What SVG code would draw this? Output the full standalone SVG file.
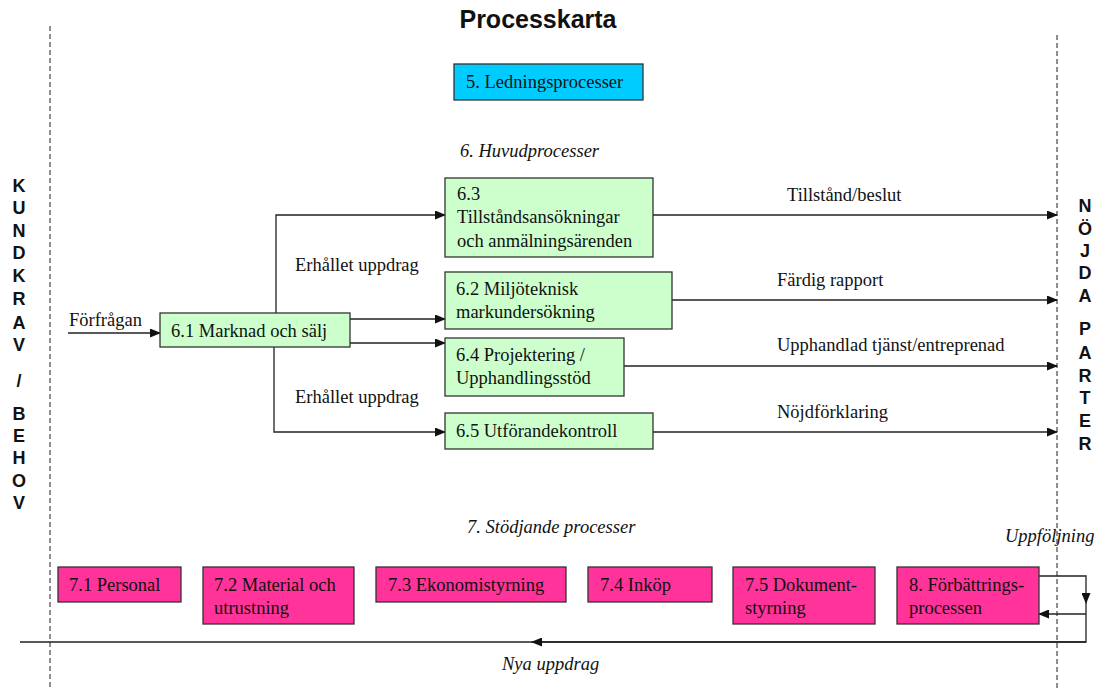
<svg xmlns="http://www.w3.org/2000/svg" width="1097" height="688" viewBox="0 0 1097 688">
<style>
.t{font-family:"Liberation Serif","Times New Roman","DejaVu Serif",serif;font-size:18.5px;fill:#111}
.i{font-family:"Liberation Serif","Times New Roman","DejaVu Serif",serif;font-size:18.5px;font-style:italic;fill:#111}
.v{font-family:"Liberation Sans",Arial,sans-serif;font-size:18px;font-weight:bold;fill:#111;text-anchor:middle}
.g rect{fill:#CCFFCC;stroke:#333;stroke-width:1.3}
.p rect{fill:#FF3399;stroke:#333;stroke-width:1.3}
.c path{fill:none;stroke:#222;stroke-width:1.3}
.d{stroke:#555;stroke-width:1.3;stroke-dasharray:5,3;fill:none}
</style>
<defs>
<marker id="ah" markerUnits="userSpaceOnUse" markerWidth="11" markerHeight="9" refX="10" refY="4.5" orient="auto">
<path d="M0,0 L11,4.5 L0,9 z" fill="#111"/>
</marker>
</defs>
<rect width="1097" height="688" fill="#fff"/>
<text x="538" y="28" text-anchor="middle" style="font-family:'Liberation Sans',Arial,sans-serif;font-size:25px;font-weight:bold;fill:#111">Processkarta</text>
<path class="d" d="M50,26 V688"/>
<path class="d" d="M1057,35 V688"/>
<g id="left-label">
<text class="v" x="19" y="192">K</text>
<text class="v" x="19" y="214">U</text>
<text class="v" x="19" y="237">N</text>
<text class="v" x="19" y="259">D</text>
<text class="v" x="19" y="282">K</text>
<text class="v" x="19" y="305">R</text>
<text class="v" x="19" y="329">A</text>
<text class="v" x="19" y="351">V</text>
<text class="v" x="19" y="387">/</text>
<text class="v" x="19" y="420">B</text>
<text class="v" x="19" y="442">E</text>
<text class="v" x="19" y="464">H</text>
<text class="v" x="19" y="487">O</text>
<text class="v" x="19" y="509">V</text>
</g>
<g id="right-label">
<text class="v" x="1085" y="212">N</text>
<text class="v" x="1085" y="235">Ö</text>
<text class="v" x="1085" y="257">J</text>
<text class="v" x="1085" y="279">D</text>
<text class="v" x="1085" y="302">A</text>
<text class="v" x="1085" y="335">P</text>
<text class="v" x="1085" y="359">A</text>
<text class="v" x="1085" y="382">R</text>
<text class="v" x="1085" y="404">T</text>
<text class="v" x="1085" y="427">E</text>
<text class="v" x="1085" y="450">R</text>
</g>
<g id="n5">
<rect x="454" y="64" width="189" height="36" fill="#00CCFF" stroke="#333" stroke-width="1.3"/>
<text class="t" x="466" y="88">5. Ledningsprocesser</text>
</g>
<text class="i" x="460" y="157">6. Huvudprocesser</text>
<g class="c" id="connectors">
<path d="M68,333 H160" marker-end="url(#ah)"/>
<path d="M276,313 V215 H445" marker-end="url(#ah)"/>
<path d="M350,319 H445" marker-end="url(#ah)"/>
<path d="M350,343 H445" marker-end="url(#ah)"/>
<path d="M274,347 V432 H445" marker-end="url(#ah)"/>
<path d="M653,215 H1057" marker-end="url(#ah)"/>
<path d="M672,300 H1057" marker-end="url(#ah)"/>
<path d="M624,366 H1057" marker-end="url(#ah)"/>
<path d="M653,432 H1057" marker-end="url(#ah)"/>
<path d="M1039,576 H1086 V603" marker-end="url(#ah)"/>
<path d="M1086,603 V642 H20"/>
<path d="M1086,614 H1039" marker-end="url(#ah)"/>
<path d="M1086,642 H532" marker-end="url(#ah)"/>
</g>
<g id="labels">
<text class="t" x="69" y="326">Förfrågan</text>
<text class="t" x="295" y="271">Erhållet uppdrag</text>
<text class="t" x="295" y="403">Erhållet uppdrag</text>
<text class="t" x="787" y="201">Tillstånd/beslut</text>
<text class="t" x="777" y="286">Färdig rapport</text>
<text class="t" x="777" y="351">Upphandlad tjänst/entreprenad</text>
<text class="t" x="777" y="418">Nöjdförklaring</text>
<text class="i" x="1005" y="542">Uppföljning</text>
<text class="i" x="502" y="670">Nya uppdrag</text>
<text class="i" x="467" y="533">7. Stödjande processer</text>
</g>
<g id="n61" class="g">
<rect x="160" y="313" width="190" height="34"/>
<text class="t" x="171" y="337">6.1 Marknad och sälj</text>
</g>
<g id="n63" class="g">
<rect x="445" y="178" width="208" height="79"/>
<text class="t" x="457" y="200">6.3</text>
<text class="t" x="457" y="223">Tillståndsansökningar</text>
<text class="t" x="457" y="247">och anmälningsärenden</text>
</g>
<g id="n62" class="g">
<rect x="445" y="272" width="227" height="57"/>
<text class="t" x="456" y="295">6.2 Miljöteknisk</text>
<text class="t" x="456" y="318">markundersökning</text>
</g>
<g id="n64" class="g">
<rect x="445" y="338" width="179" height="58"/>
<text class="t" x="456" y="361">6.4 Projektering /</text>
<text class="t" x="456" y="384">Upphandlingsstöd</text>
</g>
<g id="n65" class="g">
<rect x="445" y="413" width="208" height="36"/>
<text class="t" x="456" y="437">6.5 Utförandekontroll</text>
</g>
<g id="n71" class="p">
<rect x="58" y="567" width="123" height="35"/>
<text class="t" x="69" y="591">7.1 Personal</text>
</g>
<g id="n72" class="p">
<rect x="203" y="567" width="151" height="57"/>
<text class="t" x="214" y="591">7.2 Material och</text>
<text class="t" x="214" y="614">utrustning</text>
</g>
<g id="n73" class="p">
<rect x="376" y="567" width="190" height="35"/>
<text class="t" x="388" y="591">7.3 Ekonomistyrning</text>
</g>
<g id="n74" class="p">
<rect x="588" y="567" width="124" height="35"/>
<text class="t" x="600" y="591">7.4 Inköp</text>
</g>
<g id="n75" class="p">
<rect x="733" y="567" width="142" height="57"/>
<text class="t" x="745" y="591">7.5 Dokument-</text>
<text class="t" x="745" y="614">styrning</text>
</g>
<g id="n8" class="p">
<rect x="897" y="567" width="142" height="57"/>
<text class="t" x="909" y="591">8. Förbättrings-</text>
<text class="t" x="909" y="614">processen</text>
</g>
</svg>
